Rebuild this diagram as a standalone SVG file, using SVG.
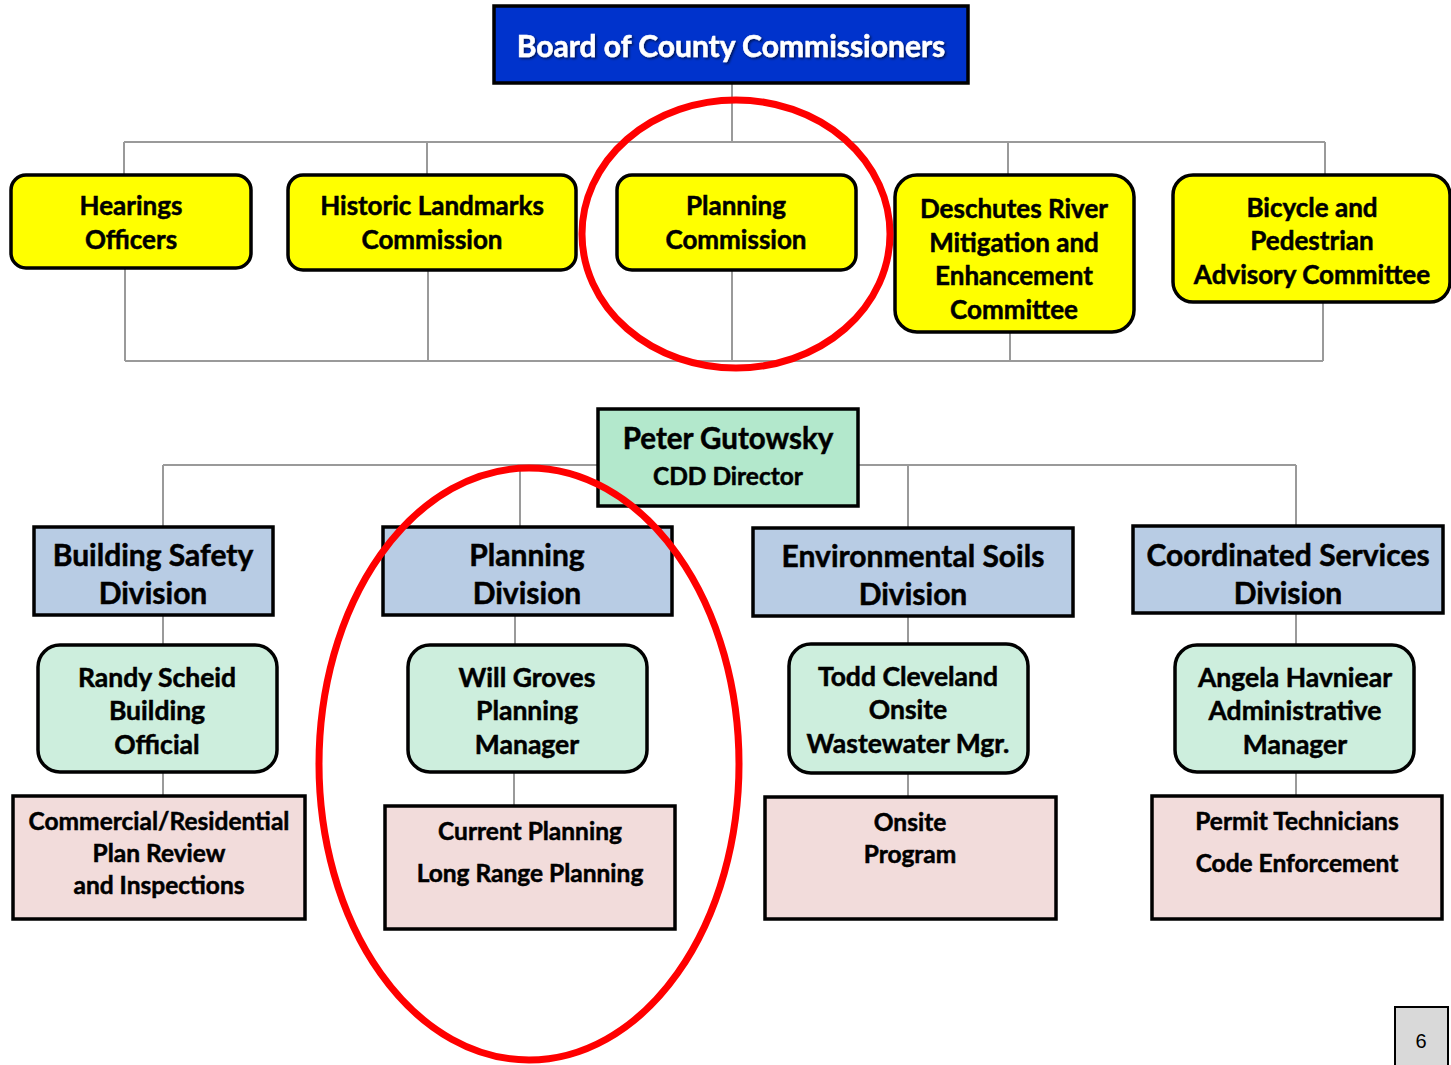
<svg xmlns="http://www.w3.org/2000/svg" width="1451" height="1065" viewBox="0 0 1451 1065">
<defs>
<style>
.t{font-family:Lato,"Liberation Sans",sans-serif;font-weight:bold;fill:#000;text-anchor:middle;stroke:#000;stroke-width:0.5}
.w{fill:#fff;stroke:#fff}
.ln{stroke:#9a9a9a;stroke-width:2;fill:none}
.yel{fill:#ffff00;stroke:#000;stroke-width:3.5}
.grn{fill:#cdeedd;stroke:#000;stroke-width:3.5}
.div{fill:#b8cce4;stroke:#000;stroke-width:3.5}
.pnk{fill:#f2dcdb;stroke:#000;stroke-width:3.5}
.red{fill:none;stroke:#ff0000;stroke-width:7}
</style>
<filter id="sh" x="-5%" y="-20%" width="110%" height="140%">
<feDropShadow dx="1.5" dy="1.5" stdDeviation="1" flood-color="#000" flood-opacity="0.6"/>
</filter>
</defs>
<rect width="1451" height="1065" fill="#fff"/>
<g id="connectors">
<path class="ln" d="M732 83V142M124 142H1325M124 142V175M427 142V175M1008 142V175M1325 142V175"/>
<path class="ln" d="M125 361H1323M125 268V361M428 270V361M732 175V361M1010 332V361M1323 302V361"/>
<path class="ln" d="M163 465H598M858 465H1296M163 465V527M520 465V527M908 465V528M1296 465V526"/>
<path class="ln" d="M163 615V645M515 615V645M908 616V644M1296 613V645"/>
<path class="ln" d="M163 772V796M514 772V806M908 773V797M1296 772V796"/>
</g>
<g id="board">
<rect x="494" y="6" width="474" height="77" fill="#0033cc" stroke="#000" stroke-width="3.5"/>
<text class="t w" x="731" y="57" font-size="30" filter="url(#sh)">Board of County Commissioners</text>
</g>
<g id="hearings">
<rect class="yel" x="11" y="175" width="240" height="93" rx="15"/>
<text class="t" x="131" y="215" font-size="26">Hearings</text>
<text class="t" x="131" y="249" font-size="26">Officers</text>
</g>
<g id="historic">
<rect class="yel" x="288" y="175" width="288" height="95" rx="15"/>
<text class="t" x="432" y="215" font-size="26">Historic Landmarks</text>
<text class="t" x="432" y="249" font-size="26">Commission</text>
</g>
<g id="planning-commission">
<rect class="yel" x="617" y="175" width="239" height="95" rx="15"/>
<text class="t" x="736" y="215" font-size="26">Planning</text>
<text class="t" x="736" y="249" font-size="26">Commission</text>
</g>
<g id="deschutes">
<rect class="yel" x="895" y="175" width="239" height="157" rx="22"/>
<text class="t" x="1014" y="218" font-size="26">Deschutes River</text>
<text class="t" x="1014" y="252" font-size="26">Mitigation and</text>
<text class="t" x="1014" y="285" font-size="26">Enhancement</text>
<text class="t" x="1014" y="319" font-size="26">Committee</text>
</g>
<g id="bicycle">
<rect class="yel" x="1173" y="175" width="277" height="127" rx="20"/>
<text class="t" x="1312" y="217" font-size="26">Bicycle and</text>
<text class="t" x="1312" y="250" font-size="26">Pedestrian</text>
<text class="t" x="1312" y="284" font-size="26">Advisory Committee</text>
</g>
<g id="director">
<rect x="598" y="409" width="260" height="97" fill="#b3e8cc" stroke="#000" stroke-width="3.5"/>
<text class="t" x="728" y="449" font-size="29.5">Peter Gutowsky</text>
<text class="t" x="728" y="485" font-size="24.5">CDD Director</text>
</g>
<g id="building-div">
<rect class="div" x="34" y="527" width="239" height="88"/>
<text class="t" x="153" y="566" font-size="30">Building Safety</text>
<text class="t" x="153" y="604" font-size="30">Division</text>
</g>
<g id="planning-div">
<rect class="div" x="383" y="527" width="289" height="88"/>
<text class="t" x="527" y="566" font-size="30">Planning</text>
<text class="t" x="527" y="604" font-size="30">Division</text>
</g>
<g id="env-div">
<rect class="div" x="753" y="528" width="320" height="88"/>
<text class="t" x="913" y="567" font-size="30">Environmental Soils</text>
<text class="t" x="913" y="605" font-size="30">Division</text>
</g>
<g id="coord-div">
<rect class="div" x="1133" y="526" width="310" height="87"/>
<text class="t" x="1288" y="566" font-size="30">Coordinated Services</text>
<text class="t" x="1288" y="604" font-size="30">Division</text>
</g>
<g id="randy">
<rect class="grn" x="38" y="645" width="239" height="127" rx="22"/>
<text class="t" x="157" y="687" font-size="26.5">Randy Scheid</text>
<text class="t" x="157" y="720" font-size="26.5">Building</text>
<text class="t" x="157" y="754" font-size="26.5">Official</text>
</g>
<g id="will">
<rect class="grn" x="408" y="645" width="239" height="127" rx="22"/>
<text class="t" x="527" y="687" font-size="26.5">Will Groves</text>
<text class="t" x="527" y="720" font-size="26.5">Planning</text>
<text class="t" x="527" y="754" font-size="26.5">Manager</text>
</g>
<g id="todd">
<rect class="grn" x="789" y="644" width="239" height="129" rx="22"/>
<text class="t" x="908" y="686" font-size="26.5">Todd Cleveland</text>
<text class="t" x="908" y="719" font-size="26.5">Onsite</text>
<text class="t" x="908" y="753" font-size="26.5">Wastewater Mgr.</text>
</g>
<g id="angela">
<rect class="grn" x="1175" y="645" width="239" height="127" rx="22"/>
<text class="t" x="1295" y="687" font-size="26.5">Angela Havniear</text>
<text class="t" x="1295" y="720" font-size="26.5">Administrative</text>
<text class="t" x="1295" y="754" font-size="26.5">Manager</text>
</g>
<g id="commercial">
<rect class="pnk" x="13" y="796" width="292" height="123"/>
<text class="t" x="159" y="830" font-size="24.5">Commercial/Residential</text>
<text class="t" x="159" y="862" font-size="24.5">Plan Review</text>
<text class="t" x="159" y="894" font-size="24.5">and Inspections</text>
</g>
<g id="current">
<rect class="pnk" x="385" y="806" width="290" height="123"/>
<text class="t" x="530" y="840" font-size="24.5">Current Planning</text>
<text class="t" x="530" y="882" font-size="24.5">Long Range Planning</text>
</g>
<g id="onsite">
<rect class="pnk" x="765" y="797" width="291" height="122"/>
<text class="t" x="910" y="831" font-size="24.5">Onsite</text>
<text class="t" x="910" y="863" font-size="24.5">Program</text>
</g>
<g id="permit">
<rect class="pnk" x="1152" y="796" width="290" height="123"/>
<text class="t" x="1297" y="830" font-size="24.5">Permit Technicians</text>
<text class="t" x="1297" y="872" font-size="24.5">Code Enforcement</text>
</g>
<g id="highlights">
<ellipse class="red" cx="736" cy="234" rx="154" ry="134"/>
<ellipse class="red" cx="529" cy="764" rx="210" ry="296"/>
</g>
<g id="page">
<rect x="1395" y="1007" width="53" height="62" fill="#d9d9d9" stroke="#000" stroke-width="2"/>
<text x="1421" y="1048" font-family="Liberation Sans,Arial,sans-serif" font-size="20" text-anchor="middle">6</text>
</g>
</svg>
